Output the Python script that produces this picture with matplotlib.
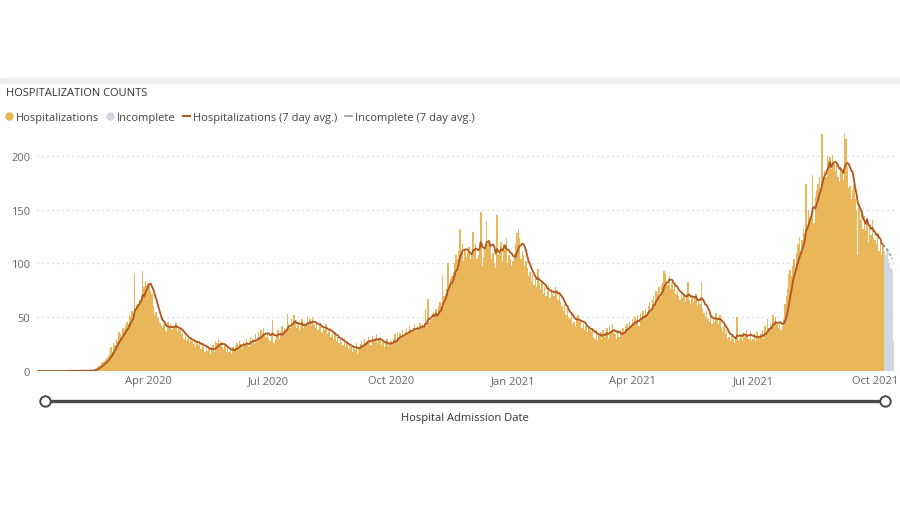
import pandas as pd
import matplotlib
matplotlib.use("Agg")
import matplotlib.pyplot as plt
import matplotlib.dates as mdates
from matplotlib.lines import Line2D
from matplotlib.patches import Rectangle

plt.rcParams['font.family'] = ['Open Sans', 'DejaVu Sans']

# daily hospital admissions, 2020-01-09 .. 2021-10-07
jan20 = [0, 0, 0, 0, 0, 0, 0, 0, 0, 0, 0, 0, 0, 0, 0, 0, 0, 0, 0, 0, 0, 0, 1]
feb20 = [0, 0, 0, 0, 0, 0, 1, 0, 0, 0, 0, 1, 0, 0, 1, 0, 0, 1, 0, 1, 2, 3, 4, 5, 6, 7, 8, 9, 10]
mar20 = [12, 14, 16, 22, 18, 26, 24, 30, 28, 36, 34, 32, 40, 38, 42, 46, 44, 52, 50, 56,
         54, 90, 58, 62, 60, 66, 68, 93, 78, 84, 80]
apr20 = [82, 78, 74, 72, 60, 52, 55, 50, 48, 45, 42, 40, 44, 38, 36, 46, 40, 44, 38, 42,
         40, 45, 36, 40, 38, 34, 35, 30, 33, 28]
may20 = [30, 26, 32, 28, 25, 30, 22, 27, 24, 28, 20, 26, 22, 18, 24, 19, 20, 16, 22, 24,
         18, 28, 26, 30, 24, 27, 22, 20, 25, 18, 22]
jun20 = [18, 20, 16, 22, 19, 24, 26, 22, 28, 25, 20, 27, 24, 30, 26, 23, 32, 28, 30, 25,
         34, 27, 36, 30, 38, 33, 40, 35, 32, 36]
jul20 = [30, 28, 35, 47, 26, 30, 33, 38, 30, 36, 42, 35, 40, 38, 53, 44, 40, 48, 42, 52,
         46, 40, 44, 38, 42, 48, 40, 45, 43, 50, 44]
aug20 = [48, 42, 50, 44, 40, 46, 38, 44, 42, 36, 40, 38, 44, 34, 36, 40, 32, 34, 30, 36,
         28, 32, 26, 30, 27, 24, 30, 22, 26, 20, 24]
sep20 = [22, 18, 24, 20, 26, 16, 22, 25, 28, 24, 30, 27, 26, 32, 28, 24, 33, 30, 28, 34,
         26, 31, 28, 24, 27, 22, 26, 30, 23, 25]
oct20 = [28, 24, 30, 34, 26, 36, 32, 35, 30, 38, 33, 36, 40, 34, 42, 38, 36, 40, 44, 37,
         42, 38, 45, 40, 44, 40, 58, 42, 67, 46, 50]
nov20 = [48, 55, 50, 58, 52, 60, 64, 56, 89, 70, 72, 76, 100, 78, 86, 88, 92, 100, 108, 104,
         112, 132, 110, 118, 102, 112, 106, 110, 115, 104]
dec20 = [110, 129, 112, 118, 104, 108, 120, 148, 98, 106, 114, 139, 118, 122, 116, 104, 110, 100, 96, 145,
         108, 112, 120, 102, 118, 114, 124, 100, 108, 104, 98]
jan21 = [102, 110, 118, 128, 132, 124, 104, 112, 108, 98, 102, 96, 88, 92, 84, 90, 80, 86, 78, 95,
         82, 76, 84, 72, 78, 70, 74, 80, 68, 76, 72]
feb21 = [70, 78, 74, 66, 72, 64, 60, 56, 62, 52, 58, 50, 48, 54, 44, 46, 42, 50, 52, 46,
         48, 40, 44, 38, 42, 36, 40, 38]
mar21 = [36, 40, 32, 30, 38, 28, 34, 36, 30, 38, 32, 36, 40, 30, 42, 36, 44, 38, 34, 30,
         36, 32, 38, 34, 40, 36, 42, 44, 40, 46, 42]
apr21 = [48, 44, 50, 46, 52, 42, 54, 50, 56, 48, 58, 52, 60, 64, 58, 66, 70, 62, 74, 72,
         78, 68, 80, 82, 93, 90, 84, 80, 88, 76]
may21 = [82, 76, 80, 72, 74, 70, 66, 74, 68, 72, 64, 70, 83, 66, 62, 70, 64, 68, 72, 60,
         66, 62, 83, 58, 54, 50, 56, 48, 46, 52, 44]
jun21 = [50, 46, 54, 48, 44, 52, 40, 36, 42, 34, 38, 30, 32, 28, 34, 30, 26, 32, 50, 28,
         30, 34, 28, 36, 32, 38, 34, 30, 36, 28]
jul21 = [30, 34, 28, 36, 32, 30, 34, 38, 30, 42, 36, 48, 40, 44, 38, 52, 46, 50, 44, 40,
         46, 38, 42, 48, 62, 70, 76, 90, 94, 88, 98]
aug21 = [104, 96, 110, 118, 125, 112, 122, 132, 128, 174, 136, 150, 142, 146, 182, 138, 162, 168, 174, 180,
         166, 220, 178, 186, 180, 200, 196, 199, 188, 201, 192]
sep21 = [186, 194, 180, 176, 190, 184, 178, 220, 216, 190, 170, 172, 160, 168, 174, 160, 150, 108, 156, 140,
         148, 132, 144, 130, 138, 120, 134, 126, 140, 124]
oct21 = [122, 118, 126, 112, 120, 108, 116]

# last days, reporting still incomplete (2021-10-08 .. 2021-10-15)
incomplete = [112, 108, 114, 104, 100, 96, 94, 28]

start_date = "2020-01-09"
tick_months = [1, 4, 7, 10]

hosp = (jan20 + feb20 + mar20 + apr20 + may20 + jun20 + jul20 + aug20 + sep20 + oct20
        + nov20 + dec20 + jan21 + feb21 + mar21 + apr21 + may21 + jun21 + jul21 + aug21
        + sep21 + oct21)

dates = pd.date_range(start_date, periods=len(hosp), freq="D")
inc_dates = pd.date_range(dates[-1] + pd.Timedelta(days=1), periods=len(incomplete), freq="D")

s_hosp = pd.Series(hosp, index=dates, dtype=float)
s_inc = pd.Series(incomplete, index=inc_dates, dtype=float)
avg_hosp = s_hosp.rolling(7, min_periods=1).mean()
avg_all = pd.concat([s_hosp, s_inc]).rolling(7, min_periods=1).mean()
avg_inc = avg_all.iloc[len(hosp) - 1:-1]

GOLD = '#E9B65A'
LIGHT = '#D3D7E0'
BROWN = '#B0561E'
DASH = '#8E8E8E'
TXT = '#666666'

W, H = 900, 506
fig = plt.figure(figsize=(9, 5.06), dpi=100)

ax = fig.add_axes([37.3 / W, 134 / H, 857 / W, 242 / H])
ax.bar(dates, hosp, width=1.02, color=GOLD, linewidth=0)
ax.bar(inc_dates, incomplete, width=1.02, color=LIGHT, linewidth=0)
ax.plot(avg_hosp.index, avg_hosp.values, color=BROWN, lw=1.3)
ax.plot(avg_inc.index, avg_inc.values, color=DASH, lw=1.1, ls=(0, (2, 1.5)))

ax.set_xlim(dates[0] - pd.Timedelta(hours=12), inc_dates[-1] + pd.Timedelta(hours=12))
ax.set_ylim(0, 225)
ax.set_yticks([0, 50, 100, 150, 200])
ax.xaxis.set_major_locator(mdates.MonthLocator(bymonth=tick_months))
ax.xaxis.set_major_formatter(mdates.DateFormatter('%b %Y'))
ax.tick_params(length=0, labelsize=8, colors=TXT)
ax.tick_params(axis='x', pad=3)
ax.tick_params(axis='y', pad=5)
for sp in ax.spines.values():
    sp.set_visible(False)
ax.set_axisbelow(True)
ax.yaxis.grid(True, color='#CFCFCF', lw=0.9, ls=(0, (1, 3)))
ax.get_ygridlines()[0].set_visible(False)

# header strip and title
fig.patches.append(Rectangle((0, 1 - 84 / H), 1, 5 / H, transform=fig.transFigure,
                             color='#EFEFEF', zorder=0))
fig.text(6 / W, 1 - 93 / H, "HOSPITALIZATION COUNTS", fontsize=8, color='#333333',
         va='center', ha='left')

handles = [
    Line2D([], [], ls='none', marker='o', ms=5, color=GOLD),
    Line2D([], [], ls='none', marker='o', ms=5, color=LIGHT),
    Line2D([], [], color=BROWN, lw=1.4),
    Line2D([], [], color=DASH, lw=1.1),
]
labels = ["Hospitalizations", "Incomplete", "Hospitalizations (7 day avg.)",
          "Incomplete (7 day avg.)"]
fig.legend(handles, labels, loc='center left', bbox_to_anchor=(0.003, 1 - 118 / H),
           ncol=4, frameon=False, fontsize=8, labelcolor='#444444',
           handlelength=0.6, handletextpad=0.25, columnspacing=0.75, borderpad=0,
           borderaxespad=0.3)

# range slider under the axis
ov = fig.add_axes([0, 0, 1, 1], zorder=-1)
ov.set_xlim(0, W)
ov.set_ylim(H, 0)
ov.axis('off')
ov.plot([45, 885], [402, 402], color='#4A4A4A', lw=2.4, solid_capstyle='butt')
ov.plot([45, 885], [402, 402], ls='none', marker='o', ms=7.5, mfc='white',
        mec='#4A4A4A', mew=1.4)
ov.text(465, 419, "Hospital Admission Date", fontsize=8, color='#333333',
        ha='center', va='center')

fig.savefig("out.png", dpi=100)
